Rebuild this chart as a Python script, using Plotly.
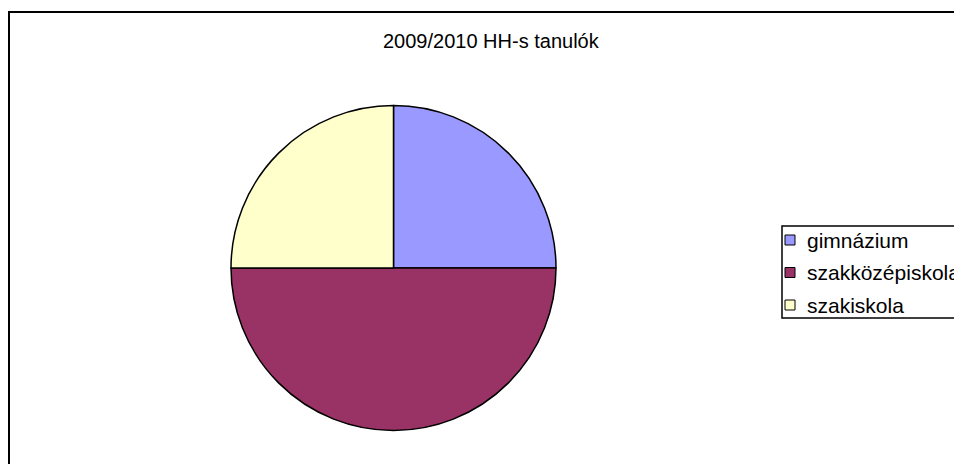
import plotly.graph_objects as go

# page body has an 8px default margin, so the figure is offset by 8px
OFF = 8
W, H = 962 - OFF, 464 - OFF

# Data
categories = ["gimnázium", "szakközépiskola", "szakiskola"]
values = [25, 50, 25]
colors = ["#9999FF", "#993366", "#FFFFCC"]
title_text = "2009/2010 HH-s tanulók"

FONT = "Liberation Sans, Arial, sans-serif"

def px(x):
    return (x - OFF) / W

def py(y):
    return 1 - (y - OFF) / H

fig = go.Figure()
fig.add_trace(go.Pie(
    labels=categories,
    values=values,
    marker=dict(colors=colors, line=dict(color="#000000", width=1.5)),
    sort=False,
    direction="clockwise",
    rotation=0,
    textinfo="none",
    hoverinfo="label+value+percent",
    showlegend=False,
    domain=dict(x=[px(231), px(556)], y=[py(432), py(104)]),
))

shapes = []
# outer chart-area frame (right/bottom extend beyond the window)
shapes.append(dict(type="rect", xref="paper", yref="paper",
                   x0=px(9), x1=px(980), y0=py(480), y1=py(12),
                   line=dict(color="#000000", width=2), fillcolor="rgba(0,0,0,0)", layer="below"))
# legend box
shapes.append(dict(type="rect", xref="paper", yref="paper",
                   x0=px(782), x1=px(980), y0=py(318), y1=py(226),
                   line=dict(color="#000000", width=1.5), fillcolor="#FFFFFF"))

annotations = [dict(text=title_text, xref="paper", yref="paper",
                    x=px(381), y=py(41), xanchor="left", yanchor="middle",
                    showarrow=False, font=dict(family=FONT, size=20, color="#000000"))]

row_y0, row_step = 240, 32.5
for i, (lab, col) in enumerate(zip(categories, colors)):
    cy = row_y0 + i * row_step
    shapes.append(dict(type="rect", xref="paper", yref="paper",
                       x0=px(785), x1=px(795), y0=py(cy + 5), y1=py(cy - 5),
                       line=dict(color="#000000", width=1), fillcolor=col))
    annotations.append(dict(text=lab, xref="paper", yref="paper",
                            x=px(805), y=py(cy), xanchor="left", yanchor="middle",
                            showarrow=False,
                            font=dict(family=FONT, size=21, color="#000000")))

fig.update_layout(
    width=W, height=H,
    margin=dict(l=0, r=0, t=0, b=0),
    paper_bgcolor="#FFFFFF",
    plot_bgcolor="#FFFFFF",
    shapes=shapes,
    annotations=annotations,
    showlegend=False,
)

fig.write_html("out.html", config={"displayModeBar": False})
